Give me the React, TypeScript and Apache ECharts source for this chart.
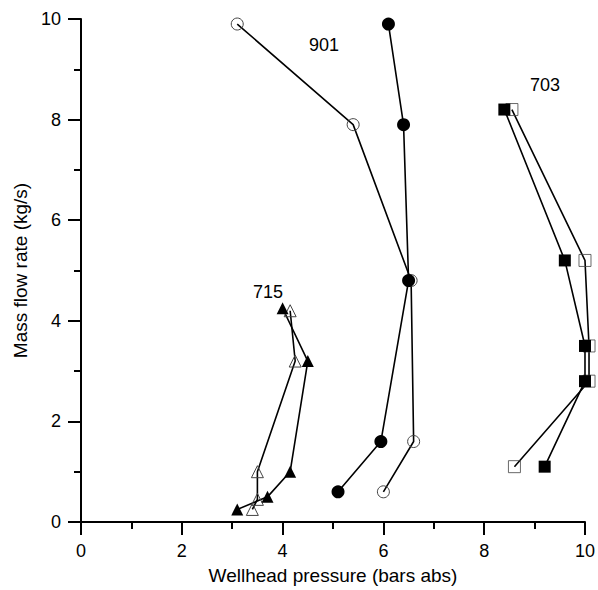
import React, { useEffect, useRef } from "react";
import * as echarts from "echarts";

const well901Filled: [number, number][] = [
  [6.1, 9.9], [6.4, 7.9], [6.5, 4.8], [5.95, 1.6], [5.1, 0.6],
];
const well901Open: [number, number][] = [
  [3.1, 9.9], [5.4, 7.9], [6.55, 4.8], [6.6, 1.6], [6.0, 0.6],
];
const well715Filled: [number, number][] = [
  [4.0, 4.25], [4.5, 3.2], [4.15, 1.0], [3.7, 0.5], [3.1, 0.25],
];
const well715Open: [number, number][] = [
  [4.15, 4.2], [4.25, 3.2], [3.5, 1.0], [3.5, 0.45], [3.4, 0.25],
];
const well703Filled: [number, number][] = [
  [8.4, 8.2], [9.6, 5.2], [10.0, 3.5], [10.0, 2.8], [9.2, 1.1],
];
const well703Open: [number, number][] = [
  [8.55, 8.2], [10.0, 5.2], [10.08, 3.5], [10.08, 2.8], [8.6, 1.1],
];

const wellLabels = [
  { text: "901", x: 324, y: 45 },
  { text: "703", x: 545, y: 85 },
  { text: "715", x: 268, y: 292 },
];

const FONT = "'Liberation Sans', Arial, sans-serif";

export default function App() {
  const ref = useRef<HTMLDivElement>(null);
  useEffect(() => {
    if (!ref.current) return;
    const chart = echarts.init(ref.current, null, { renderer: "svg" });
    const LINE = { color: "#000", width: 1.6 };
    const filled = (symbol: string, size: number) => ({
      symbol,
      symbolSize: size,
      itemStyle: { color: "#000" },
    });
    const open = (symbol: string, size: number) => ({
      symbol,
      symbolSize: size,
      itemStyle: { color: "rgba(255,255,255,0)", borderColor: "#444", borderWidth: 1 },
    });
    const base = {
      type: "line",
      showAllSymbol: true,
      clip: false,
      lineStyle: LINE,
      emphasis: { disabled: true },
    };
    const axisCommon = {
      type: "value",
      min: 0,
      max: 10,
      interval: 2,
      axisLine: { show: true, onZero: false, lineStyle: { color: "#000", width: 2 } },
      axisTick: { show: true, inside: false, length: 13, lineStyle: { color: "#000", width: 2 } },
      minorTick: { show: true, splitNumber: 2, length: 7, lineStyle: { color: "#000", width: 2 } },
      splitLine: { show: false },
      axisLabel: { color: "#000", fontSize: 18, fontFamily: FONT },
      nameLocation: "middle",
      nameTextStyle: { color: "#000", fontSize: 19, fontFamily: FONT },
    };
    chart.setOption({
      animation: false,
      backgroundColor: "#fff",
      grid: { left: 81, right: 13, top: 19, bottom: 67, containLabel: false },
      xAxis: {
        ...axisCommon,
        name: "Wellhead pressure (bars abs)",
        nameGap: 44,
        axisLabel: { ...axisCommon.axisLabel, margin: 20 },
      },
      yAxis: {
        ...axisCommon,
        name: "Mass flow rate (kg/s)",
        nameGap: 47,
        axisLabel: { ...axisCommon.axisLabel, margin: 20 },
      },
      series: [
        { ...base, name: "901 open", data: well901Open, ...open("circle", 12) },
        { ...base, name: "901 filled", data: well901Filled, ...filled("circle", 13) },
        { ...base, name: "715 open", data: well715Open, ...open("triangle", 12) },
        { ...base, name: "715 filled", data: well715Filled, ...filled("triangle", 12) },
        {
          type: "lines",
          name: "703 open line",
          coordinateSystem: "cartesian2d",
          polyline: true,
          clip: false,
          silent: true,
          lineStyle: { ...LINE, opacity: 1, curveness: 0 },
          data: [{ coords: well703Open }],
        },
        {
          type: "scatter",
          name: "703 open",
          clip: false,
          data: well703Open,
          emphasis: { disabled: true },
          ...open("rect", 12),
        },
        { ...base, name: "703 filled", data: well703Filled, ...filled("rect", 12) },
      ],
      graphic: wellLabels.map((l) => ({
        type: "text",
        x: l.x,
        y: l.y,
        style: {
          text: l.text,
          fill: "#000",
          fontSize: 18,
          fontFamily: FONT,
          textAlign: "center",
          textVerticalAlign: "middle",
        },
      })),
    });
    return () => chart.dispose();
  }, []);
  return (
    <div
      ref={ref}
      style={{ position: "absolute", left: 0, top: 0, width: 598, height: 590 }}
    />
  );
}
